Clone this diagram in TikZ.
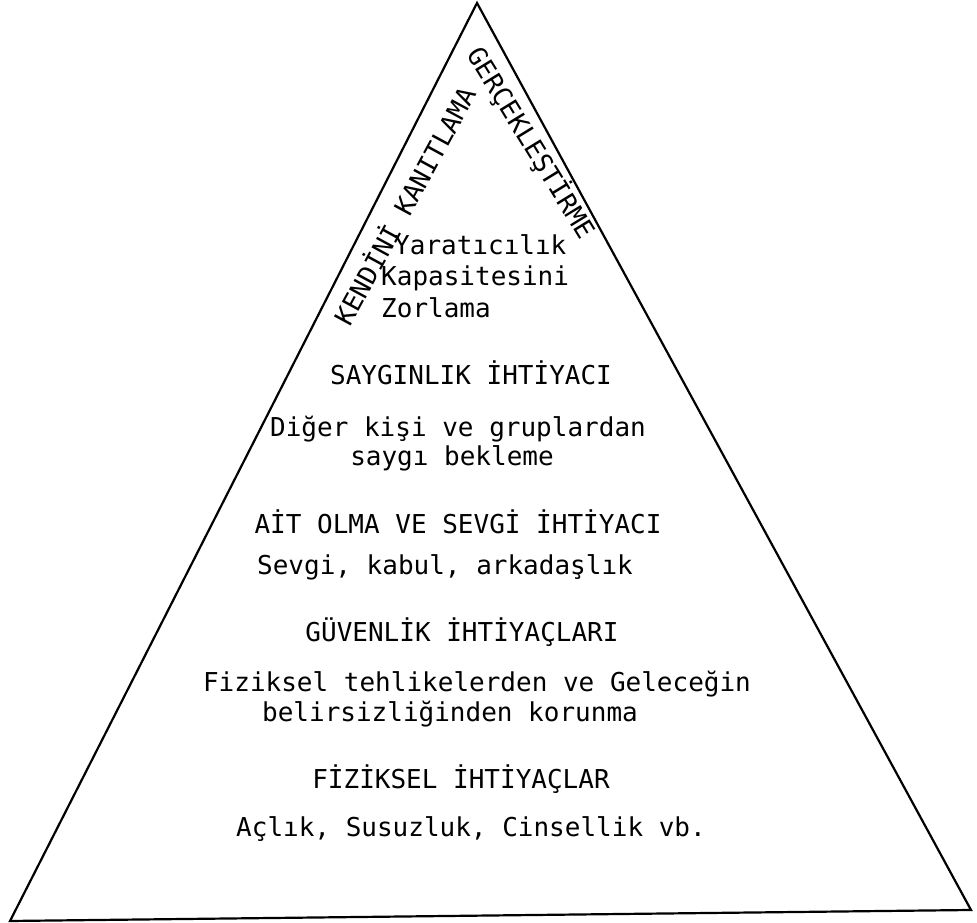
\documentclass[tikz,border=0pt]{standalone}
\usepackage{fontspec}
\newfontfamily\typewfont{DejaVu Sans Mono}

\begin{document}
\begin{tikzpicture}[
  x=1pt, y=1pt,
  txt/.style={font=\typewfont\fontsize{26}{31}\selectfont, inner sep=0pt, anchor=base},
  side/.style={txt, anchor=center}
]
\useasboundingbox (0,0) rectangle (977,923);
% pyramid outline
\coordinate (apex) at (477,920);
\coordinate (bl) at (10,2);
\coordinate (br) at (971,13);
\draw[line width=2.2pt] (apex) -- (bl) -- (br) -- cycle;

% self actualisation
\node[side, rotate=61.5] (kendini) at (403,718) {KENDİNİ KANITLAMA};
\node[side, rotate=-58.5] (gercek) at (531,780) {GERÇEKLEŞTİRME};
\node[txt, anchor=base west] (yarat) at (394,668) {Yaratıcılık};
\node[txt, anchor=base west] (kapas) at (381,637) {Kapasitesini};
\node[txt, anchor=base west] (zorla) at (381,605) {Zorlama};

% esteem
\node[txt] (saygi) at (471,538) {SAYGINLIK İHTİYACI};
\node[txt] (diger) at (458,486) {Diğer kişi ve gruplardan};
\node[txt] (bekle) at (452,457) {saygı bekleme};

% belonging
\node[txt] (ait) at (458,389) {AİT OLMA VE SEVGİ İHTİYACI};
\node[txt] (sevgi) at (445,348) {Sevgi, kabul, arkadaşlık};

% safety
\node[txt] (guven) at (462,281) {GÜVENLİK İHTİYAÇLARI};
\node[txt] (tehlike) at (477,231) {Fiziksel tehlikelerden ve Geleceğin};
\node[txt] (belirsiz) at (450,201) {belirsizliğinden korunma};

% physiological
\node[txt] (fizik) at (461,134) {FİZİKSEL İHTİYAÇLAR};
\node[txt] (aclik) at (471,86) {Açlık, Susuzluk, Cinsellik vb.};
\end{tikzpicture}
\end{document}
